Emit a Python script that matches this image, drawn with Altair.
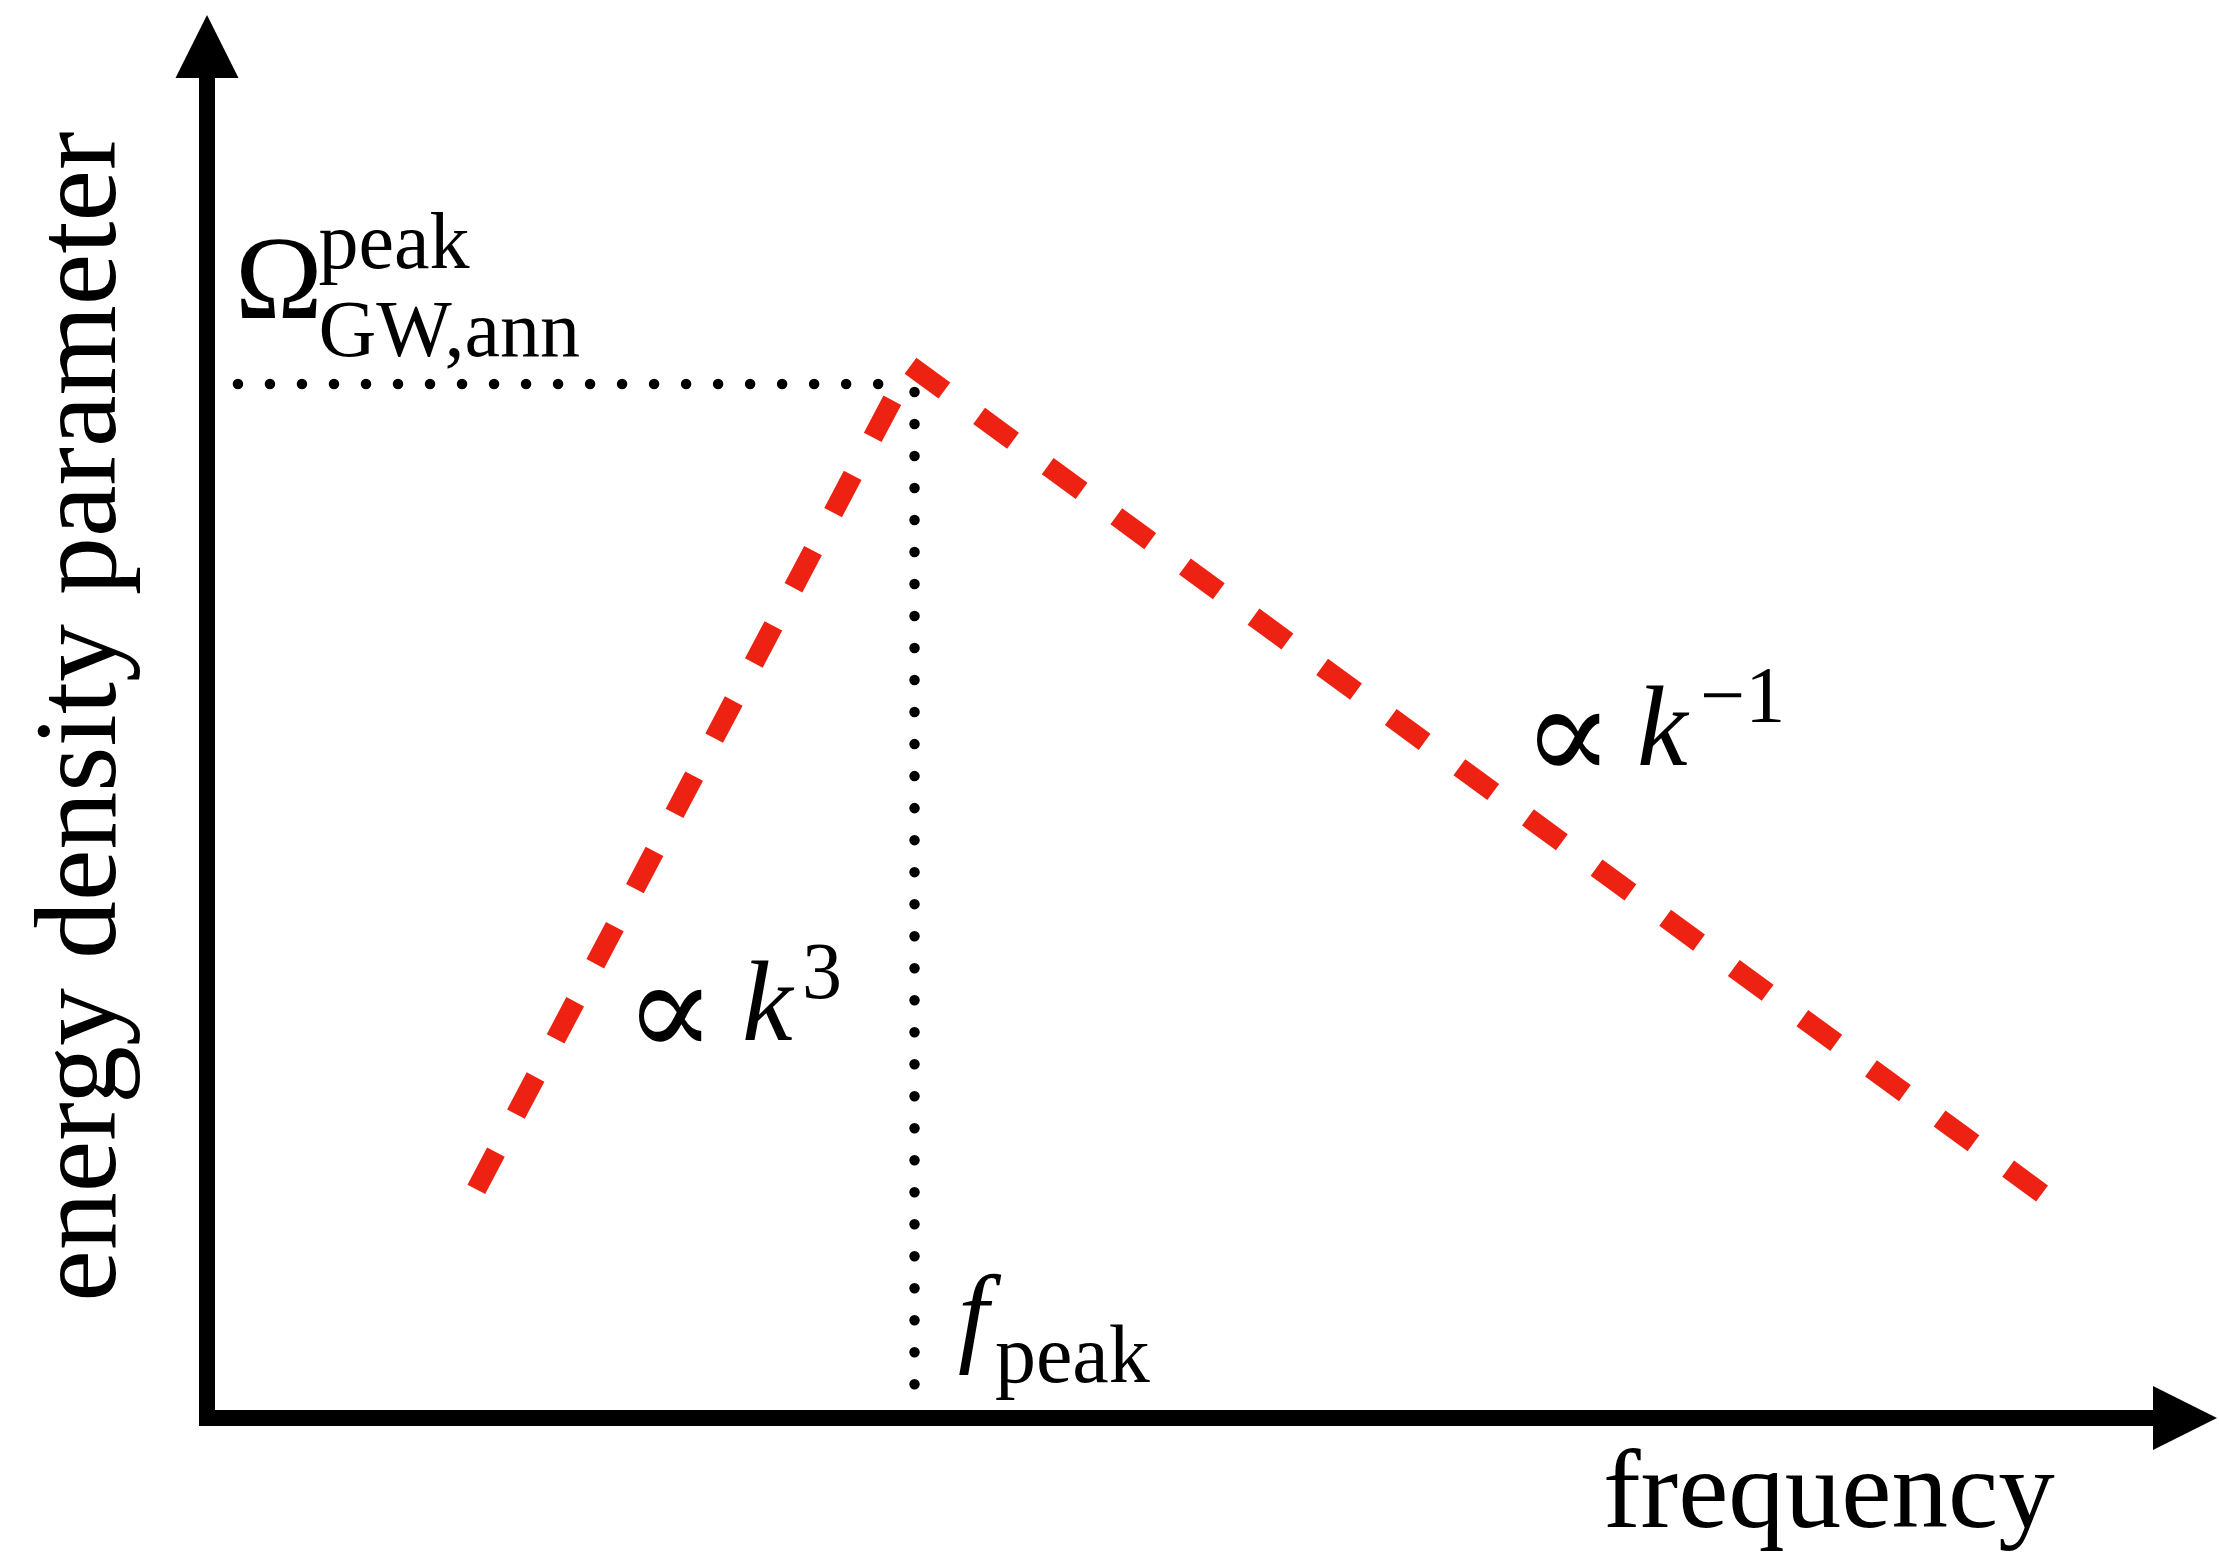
import altair as alt
import pandas as pd

# Broken power-law sketch of the GW energy spectrum
# rising branch (∝ k^3) up to the peak, falling branch (∝ k^-1) after it
segment = ["rise", "rise", "fall", "fall"]
order = [0, 1, 0, 1]
spec_x = [1.34, 3.5, 3.5, 9.13]
spec_y = [1.63, 7.5, 7.5, 1.6]

# dotted guides marking the peak amplitude and peak frequency
omega_level = 7.37
omega_guide_x = [0.154, 3.373]
f_peak = 3.52
f_guide_y = [7.313, 0.214]

# axis extents (arrow tips)
x_end = 10
y_end = 10

# text
y_title = "energy density parameter"
x_title = "frequency"
omega_main, omega_sup, omega_sub = "Ω", "peak", "GW,ann"
fpeak_main, fpeak_sub = "f", "peak"
rise_sym, rise_base, rise_exp = "∝", "k", "3"
fall_sym, fall_base, fall_exp = "∝", "k", "−1"

xs = alt.Scale(domain=[0, 10], range=[207, 2217], nice=False, zero=False)
ys = alt.Scale(domain=[0, 10], range=[1418, 15], nice=False, zero=False)

SERIF = "Liberation Serif"
SYMBOL = "DejaVu Serif"
RED = "#EE2212"


def X(field="x"):
    return alt.X(f"{field}:Q", scale=xs, axis=None)


def Y(field="y"):
    return alt.Y(f"{field}:Q", scale=ys, axis=None)


def label(text, x, y, size, font=SERIF, style="normal", align="left", angle=0):
    df = pd.DataFrame({"x": [x], "y": [y], "text": [text]})
    mark = alt.Chart(df).mark_text(
        font=font, fontSize=size, fontStyle=style, align=align,
        baseline="alphabetic", color="black", angle=angle,
    )
    return mark.encode(x=X(), y=Y(), text="text:N")


# axes with arrow heads
axes_df = pd.DataFrame({"x": [0], "y": [0], "x2": [x_end], "y2": [y_end]})
x_axis = alt.Chart(axes_df).mark_rule(
    color="black", strokeWidth=16, xOffset=-8, x2Offset=-40
).encode(x=X("x"), x2="x2:Q", y=Y("y"))
y_axis = alt.Chart(axes_df).mark_rule(
    color="black", strokeWidth=16, yOffset=8, y2Offset=40
).encode(x=X("x"), y=Y("y"), y2="y2:Q")

up_df = pd.DataFrame({"x": [0], "y": [y_end]})
right_df = pd.DataFrame({"x": [x_end], "y": [0]})
up_arrow = alt.Chart(up_df).mark_point(
    shape="M0,0L-1,2L1,2Z", size=3969, filled=True, color="black", opacity=1
).encode(x=X(), y=Y())
right_arrow = alt.Chart(right_df).mark_point(
    shape="M0,0L-2,-1L-2,1Z", size=4096, filled=True, color="black", opacity=1
).encode(x=X(), y=Y())

# dotted guides
h_guide = alt.Chart(
    pd.DataFrame({"x": [omega_guide_x[0]], "x2": [omega_guide_x[1]], "y": [omega_level]})
).mark_rule(
    color="black", strokeWidth=10.5, strokeCap="round", strokeDash=[0.01, 32]
).encode(x=X("x"), x2="x2:Q", y=Y("y"))
v_guide = alt.Chart(
    pd.DataFrame({"x": [f_peak], "y": [f_guide_y[0]], "y2": [f_guide_y[1]]})
).mark_rule(
    color="black", strokeWidth=10.5, strokeCap="round", strokeDash=[0.01, 32]
).encode(x=X("x"), y=Y("y"), y2="y2:Q")

# red dashed spectrum
spec_df = pd.DataFrame({"segment": segment, "order": order, "x": spec_x, "y": spec_y})
spectrum = alt.Chart(spec_df).mark_line(
    color=RED, strokeWidth=20, strokeDash=[42, 43], strokeCap="butt"
).encode(x=X(), y=Y(), detail="segment:N", order="order:Q")

texts = [
    label(y_title, -0.458, 5.0, 116, align="center", angle=270),
    label(x_title, 6.945, -0.777, 113),
    label(omega_main, 0.139, 7.84, 118),
    label(omega_sup, 0.555, 8.197, 80),
    label(omega_sub, 0.555, 7.57, 80),
    label(fpeak_main, 3.736, 0.470, 110, style="italic"),
    label(fpeak_sub, 3.920, 0.257, 82),
    label(rise_sym, 2.303, 2.580, 135, font=SYMBOL, align="center"),
    label(rise_base, 2.662, 2.694, 114, style="italic"),
    label(rise_exp, 2.960, 2.994, 80),
    label(fall_sym, 6.771, 4.547, 135, font=SYMBOL, align="center"),
    label(fall_base, 7.114, 4.654, 114, style="italic"),
    label(fall_exp, 7.428, 4.961, 80),
]

chart = alt.layer(
    h_guide, v_guide, spectrum, x_axis, y_axis, up_arrow, right_arrow, *texts
).properties(
    width=2219, height=1553,
    autosize=alt.AutoSizeParams(type="none"),
    padding=0,
    background="white",
).configure_view(stroke=None)

chart.save("out.html", embed_options={"renderer": "svg", "actions": False})
